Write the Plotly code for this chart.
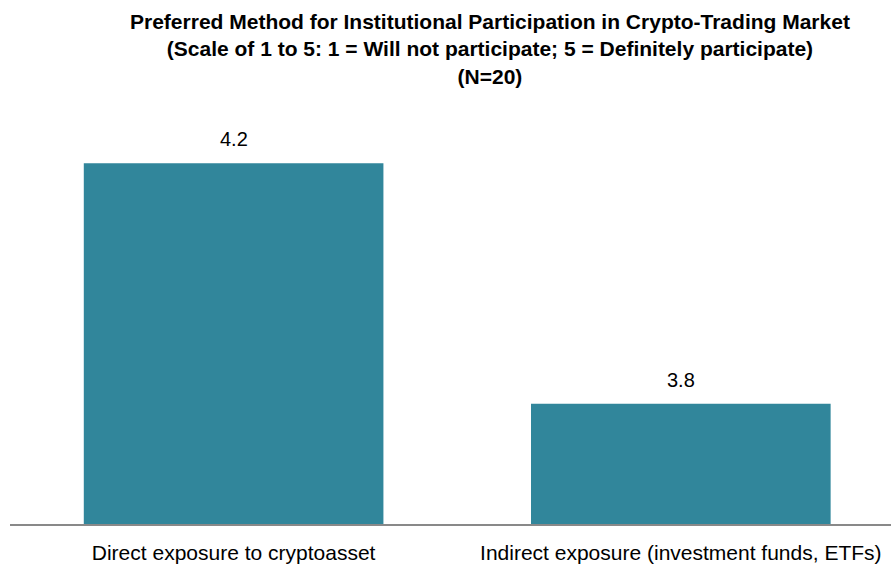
import plotly.graph_objects as go

# survey results, scale 1-5
categories = ["Direct exposure to cryptoasset", "Indirect exposure (investment funds, ETFs)"]
scores = [4.2, 3.8]
score_labels = ["4.2", "3.8"]

title = (
    "<b>Preferred Method for Institutional Participation in Crypto-Trading Market<br>"
    "(Scale of 1 to 5: 1 = Will not participate; 5 = Definitely participate)<br>"
    "(N=20)</b>"
)

FONT = "Liberation Sans, Arial, sans-serif"

fig = go.Figure(
    go.Bar(
        x=categories,
        y=scores,
        marker=dict(color="#31869B", line=dict(width=0)),
        hoverinfo="skip",
    )
)

for cat, val, lab in zip(categories, scores, score_labels):
    fig.add_annotation(
        x=cat, y=val, text=lab, showarrow=False,
        yanchor="bottom", yshift=11,
        font=dict(size=20, color="#000000", family=FONT),
    )

# title as a paper annotation so the three lines anchor from the top
fig.add_annotation(
    text=title, showarrow=False,
    xref="paper", yref="paper",
    x=0.545, xanchor="center",
    y=1.073, yanchor="top",
    font=dict(size=21, color="#000000", family=FONT),
)

fig.update_layout(
    width=891,
    height=564,
    margin=dict(l=10, r=0, t=43, b=37),
    paper_bgcolor="white",
    plot_bgcolor="white",
    bargap=0.33,
    showlegend=False,
    xaxis=dict(
        range=[-0.5, 1.47],
        showline=True,
        linecolor="#898989",
        linewidth=2,
        showgrid=False,
        ticks="",
        ticklabelstandoff=9,
        tickfont=dict(size=21, color="#000000", family=FONT),
    ),
    yaxis=dict(
        range=[3.6, 4.4],
        visible=False,
        showgrid=False,
    ),
)

fig.write_html(
    "out.html",
    config={"displayModeBar": False},
    post_script="document.body.style.margin='0';",
)
